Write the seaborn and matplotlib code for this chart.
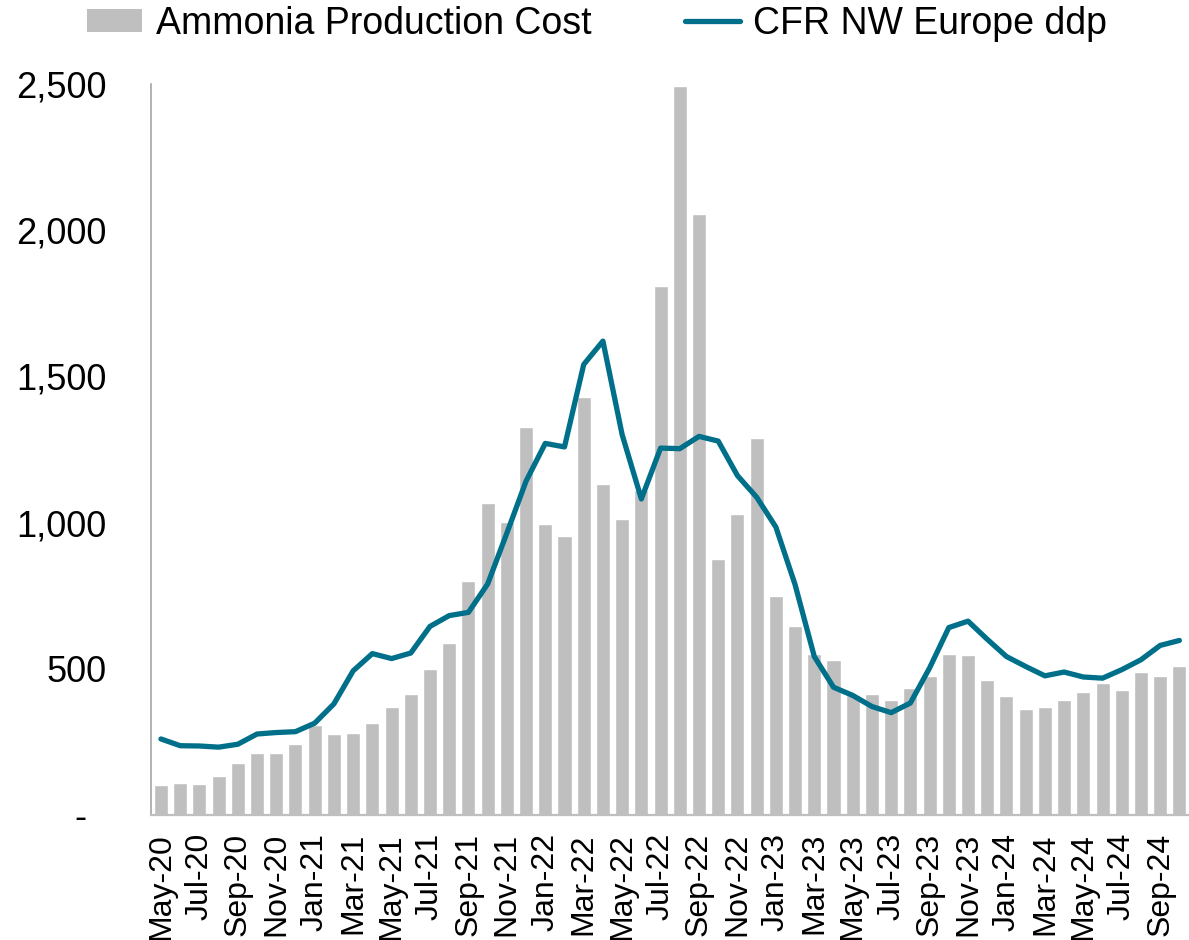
"""Ammonia production cost vs CFR NW Europe ddp price, monthly."""

import matplotlib.pyplot as plt
import numpy as np
import pandas as pd
import seaborn as sns
from matplotlib.lines import Line2D
from matplotlib.patches import Patch
from matplotlib.ticker import FuncFormatter

months = [
    "May-20", "Jun-20", "Jul-20", "Aug-20", "Sep-20", "Oct-20", "Nov-20", "Dec-20",
    "Jan-21", "Feb-21", "Mar-21", "Apr-21", "May-21", "Jun-21", "Jul-21", "Aug-21",
    "Sep-21", "Oct-21", "Nov-21", "Dec-21",
    "Jan-22", "Feb-22", "Mar-22", "Apr-22", "May-22", "Jun-22", "Jul-22", "Aug-22",
    "Sep-22", "Oct-22", "Nov-22", "Dec-22",
    "Jan-23", "Feb-23", "Mar-23", "Apr-23", "May-23", "Jun-23", "Jul-23", "Aug-23",
    "Sep-23", "Oct-23", "Nov-23", "Dec-23",
    "Jan-24", "Feb-24", "Mar-24", "Apr-24", "May-24", "Jun-24", "Jul-24", "Aug-24",
    "Sep-24", "Oct-24",
]

production_cost = [
    103, 108, 106, 135, 179, 213, 212, 243,
    308, 276, 280, 313, 370, 413, 500, 589, 800, 1068, 1001, 1327,
    996, 956, 1430, 1133, 1011, 1110, 1809, 2492, 2055, 875, 1030, 1290,
    750, 645, 550, 530, 411, 413, 394, 435, 475, 549, 547, 462,
    407, 361, 369, 395, 421, 452, 428, 489, 475, 510,
]

cfr_nw_europe = [
    260, 237, 236, 232, 242, 277, 282, 285,
    314, 380, 493, 552, 535, 554, 645, 682, 693, 790, 964, 1142,
    1271, 1259, 1541, 1621, 1301, 1081, 1255, 1253, 1295, 1279, 1161, 1087,
    985, 788, 542, 437, 409, 371, 350, 383, 503, 641, 663, 601,
    542, 508, 476, 489, 472, 468, 497, 531, 580, 597,
]

BAR_COLOR = "#BFBFBF"
LINE_COLOR = "#00708A"

sns.set_style("white")
plt.rcParams["font.family"] = ["Liberation Sans", "DejaVu Sans"]
plt.rcParams["text.color"] = "black"
plt.rcParams["xtick.color"] = "black"
plt.rcParams["ytick.color"] = "black"

df = pd.DataFrame({
    "month": months,
    "pos": np.arange(len(months)),
    "cost": production_cost,
    "cfr": cfr_nw_europe,
})

fig = plt.figure(figsize=(11.89, 9.40), dpi=100)
ax = fig.add_axes([0.1273, 0.133, 0.8727, 0.7775])

sns.barplot(data=df, x="month", y="cost", color=BAR_COLOR, saturation=1,
            width=0.73, ax=ax)
sns.lineplot(data=df, x="pos", y="cfr", color=LINE_COLOR, linewidth=3.8,
             ax=ax)

ax.set_xlim(-0.5, len(months) - 0.5)
ax.set_ylim(0, 2500)
ax.set_yticks([0, 500, 1000, 1500, 2000, 2500])
ax.yaxis.set_major_formatter(
    FuncFormatter(lambda v, _: "-  " if v == 0 else f"{v:,.0f}"))
ax.set_xticks(df["pos"][::2])
ax.set_xticklabels(df["month"][::2], rotation=90)
ax.set_xlabel("")
ax.set_ylabel("")

ax.tick_params(axis="y", length=0, pad=32, labelsize=26, labelcolor="black")
ax.tick_params(axis="x", length=0, pad=13, labelsize=23, labelcolor="black")

for side in ["top", "right"]:
    ax.spines[side].set_visible(False)
ax.spines["left"].set_color("#A6A6A6")
ax.spines["left"].set_linewidth(1.2)
ax.spines["bottom"].set_color("#BFBFBF")
ax.spines["bottom"].set_linewidth(1.6)

handles = [
    Patch(facecolor=BAR_COLOR, edgecolor="none", label="Ammonia Production Cost"),
    Line2D([0], [0], color=LINE_COLOR, linewidth=3.8, solid_capstyle="round",
           label="CFR NW Europe ddp"),
]
fig.legend(handles=handles, loc="upper left", bbox_to_anchor=(0.045, 1.03),
           ncol=2, frameon=False, fontsize=27, handlelength=1.47,
           handleheight=0.55, handletextpad=0.35, columnspacing=2.5)

fig.savefig("out.png", dpi=100)
plt.close(fig)
